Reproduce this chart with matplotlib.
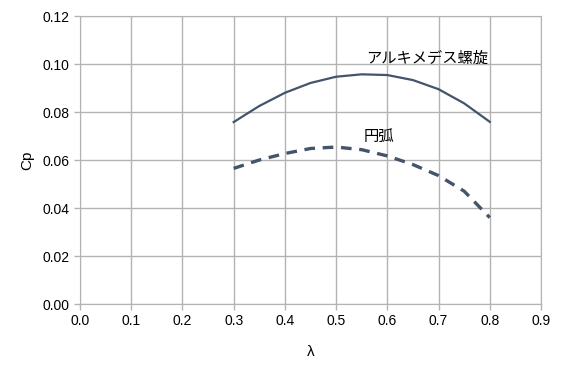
import matplotlib.pyplot as plt

# values
lam = [0.30, 0.35, 0.40, 0.45, 0.50, 0.55, 0.60, 0.65, 0.70, 0.75, 0.80]
cp_spiral = [0.0758, 0.0825, 0.0880, 0.0921, 0.0947, 0.0957, 0.0954, 0.0933, 0.0895, 0.0836, 0.0759]
cp_arc = [0.0565, 0.0600, 0.0627, 0.0648, 0.0654, 0.0643, 0.0617, 0.0581, 0.0535, 0.0470, 0.0360]

xticks = [0.0, 0.1, 0.2, 0.3, 0.4, 0.5, 0.6, 0.7, 0.8, 0.9]
yticks = [0.00, 0.02, 0.04, 0.06, 0.08, 0.10, 0.12]

LINE = '#44546a'
GRID = '#b3b3b3'

plt.rcParams['font.family'] = ['Liberation Sans', 'Noto Sans CJK JP', 'DejaVu Sans']

fig = plt.figure(figsize=(5.68, 3.68), dpi=100)
ax = fig.add_axes([0.1408, 0.1739, 0.8117, 0.7826])

ax.plot(lam, cp_spiral, color=LINE, linewidth=1.6)
ax.plot(lam, cp_arc, color=LINE, linewidth=2.4, dashes=(3.2, 2.3))

ax.set_xlim(0, 0.9)
ax.set_ylim(0, 0.12)
ax.set_xticks(xticks)
ax.set_yticks(yticks)
ax.set_xticklabels(['%.1f' % v for v in xticks])
ax.set_yticklabels(['%.2f' % v for v in yticks])
ax.grid(True, color=GRID, linewidth=1)
for s in ax.spines.values():
    s.set_color(GRID)
ax.tick_params(colors=GRID, labelcolor='black', labelsize=10, length=4, width=1)

ax.set_xlabel('λ', fontsize=11, labelpad=12)
ax.set_ylabel('Cp', fontsize=11, labelpad=6)

ax.text(0.558, 0.1025, 'アルキメデス螺旋', fontsize=11, va='center', ha='left',
        family=['Noto Sans CJK JP', 'DejaVu Sans'])
ax.text(0.553, 0.0700, '円弧', fontsize=11, va='center', ha='left',
        family=['Noto Sans CJK JP', 'DejaVu Sans'])

fig.savefig('out.png', dpi=100)
